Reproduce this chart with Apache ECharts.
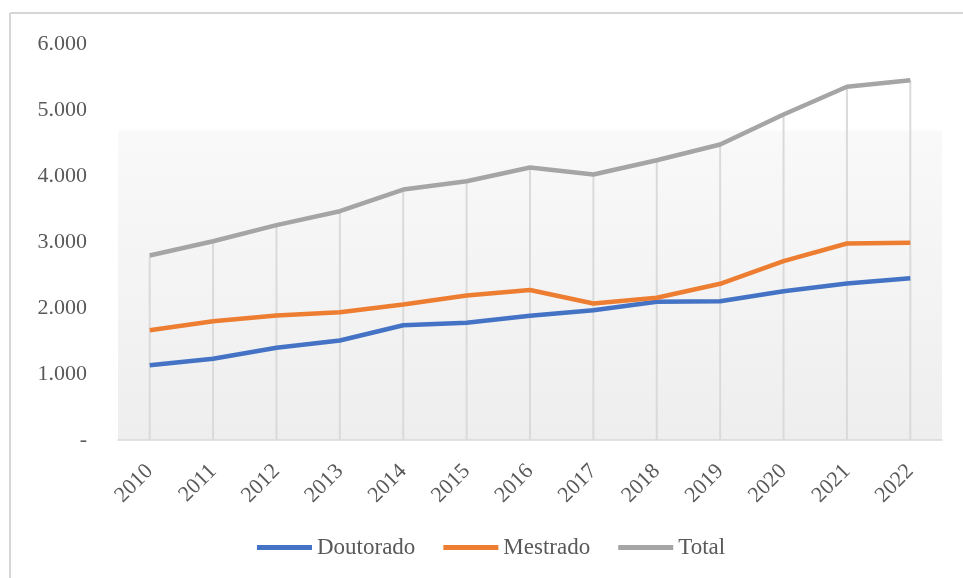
<!DOCTYPE html>
<html>
<head>
<meta charset="utf-8">
<script src="https://cdn.jsdelivr.net/npm/echarts@6/dist/echarts.min.js"></script>
<style>
  html, body { margin: 0; padding: 0; background: #fff; }
  #chart { width: 963px; height: 578px; }
</style>
</head>
<body>
<div id="chart"></div>
<script>
// anos
var anos = ['2010', '2011', '2012', '2013', '2014', '2015', '2016', '2017', '2018', '2019', '2020', '2021', '2022'];
// valores
var doutorado = [1133, 1230, 1397, 1508, 1739, 1776, 1882, 1967, 2094, 2103, 2255, 2371, 2452];
var mestrado = [1664, 1800, 1886, 1936, 2053, 2189, 2273, 2068, 2155, 2367, 2709, 2977, 2988];
var total = [2795, 3012, 3255, 3467, 3795, 3921, 4129, 4023, 4239, 4477, 4932, 5352, 5452];
var yTicks = [0, 1000, 2000, 3000, 4000, 5000, 6000];

var fonte = 'Liberation Serif, Times New Roman, serif';

var myChart = echarts.init(document.getElementById('chart'));

function fmt(v) {
  if (v === 0) return '-';
  return String(v).replace(/\B(?=(\d{3})+(?!\d))/g, '.');
}

myChart.setOption({
  animation: false,
  color: ['#4472C4', '#ED7D31', '#A5A5A5'],
  graphic: [
    // moldura (só topo e esquerda aparecem)
    { type: 'line', shape: { x1: 10, y1: 13, x2: 963, y2: 13 }, style: { stroke: '#d6d6d6', lineWidth: 2 } },
    { type: 'line', shape: { x1: 10, y1: 13, x2: 10, y2: 578 }, style: { stroke: '#d6d6d6', lineWidth: 2 } }
  ],
  grid: {
    left: 118,
    right: 21,
    top: 44,
    bottom: 138,
    show: true,
    borderWidth: 0,
    backgroundColor: new echarts.graphic.LinearGradient(0, 0, 0, 1, [
      { offset: 0, color: '#ffffff' },
      { offset: 0.215, color: '#ffffff' },
      { offset: 0.222, color: '#f9f9f9' },
      { offset: 1, color: '#eeeeee' }
    ])
  },
  legend: {
    bottom: 14,
    left: 252,
    icon: 'rect',
    itemWidth: 55,
    itemHeight: 5,
    itemGap: 28,
    data: ['Doutorado', 'Mestrado', 'Total'],
    textStyle: { fontFamily: fonte, fontSize: 23, color: '#595959' }
  },
  xAxis: {
    type: 'category',
    data: anos,
    boundaryGap: true,
    axisLine: { lineStyle: { color: '#d9d9d9', width: 1.5 } },
    axisTick: { show: false },
    splitLine: { show: false },
    axisLabel: {
      rotate: 45,
      margin: 28,
      fontFamily: fonte,
      fontSize: 22,
      color: '#595959'
    }
  },
  yAxis: {
    type: 'value',
    min: yTicks[0],
    max: yTicks[yTicks.length - 1],
    interval: 1000,
    axisLine: { show: false },
    axisTick: { show: false },
    splitLine: { show: false },
    axisLabel: {
      margin: 31,
      fontFamily: fonte,
      fontSize: 22,
      color: '#595959',
      padding: [4, 0, 0, 0],
      formatter: fmt
    }
  },
  series: [
    {
      // linhas de queda até o eixo
      name: 'queda',
      type: 'bar',
      barWidth: 2,
      silent: true,
      z: 1,
      itemStyle: { color: '#dadada' },
      data: total
    },
    {
      name: 'Doutorado',
      type: 'line',
      symbol: 'none',
      z: 3,
      lineStyle: { width: 4.5, color: '#4472C4' },
      data: doutorado
    },
    {
      name: 'Mestrado',
      type: 'line',
      symbol: 'none',
      z: 3,
      lineStyle: { width: 4.5, color: '#ED7D31' },
      data: mestrado
    },
    {
      name: 'Total',
      type: 'line',
      symbol: 'none',
      z: 3,
      lineStyle: { width: 4.5, color: '#A5A5A5' },
      data: total
    }
  ]
});
</script>
</body>
</html>
